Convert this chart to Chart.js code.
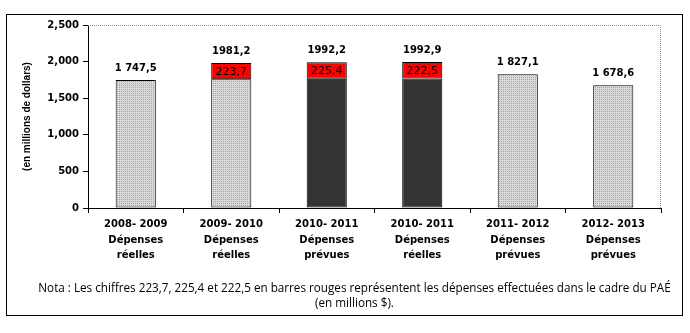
<!DOCTYPE html>
<html>
<head>
<meta charset="utf-8">
<script src="https://cdn.jsdelivr.net/npm/chart.js@4/dist/chart.umd.min.js"></script>
<style>
  body { margin: 0; background: #fff; }
  #box { position: absolute; left: 6px; top: 14px; width: 675px; height: 300px; border: 1px solid #000; }
  #chart { position: absolute; left: 0; top: 0; }
  #note { position: absolute; left: 0; top: 265px; width: 695px; text-align: center;
          font: 11.7px "Open Sans", sans-serif; line-height: 15px; color: #000; }
</style>
</head>
<body>
<div id="box">
  <canvas id="chart" width="675" height="300"></canvas>
  <div id="note">Nota : Les chiffres 223,7, 225,4 et 222,5 en barres rouges représentent les dépenses effectuées dans le cadre du PAÉ<br>(en millions $).</div>
</div>
<script>
// categories (each on 3 lines)
let categories = [
  ["2008- 2009", "Dépenses", "réelles"],
  ["2009- 2010", "Dépenses", "réelles"],
  ["2010- 2011", "Dépenses", "prévues"],
  ["2010- 2011", "Dépenses", "réelles"],
  ["2011- 2012", "Dépenses", "prévues"],
  ["2012- 2013", "Dépenses", "prévues"]
];
let baseValues = [1747.5, 1757.5, 1766.8, 1770.4, 1827.1, 1678.6];
let redValues = [null, 223.7, 225.4, 222.5, null, null];
let totalLabels = ["1 747,5", "1981,2", "1992,2", "1992,9", "1 827,1", "1 678,6"];
let redLabels = [null, "223,7", "225,4", "222,5", null, null];
let darkBars = [false, false, true, true, false, false];
let yTicks = [0, 500, 1000, 1500, 2000, 2500];

// motif pointillé gris
let pc = document.createElement('canvas');
pc.width = 2; pc.height = 2;
let pctx = pc.getContext('2d');
pctx.fillStyle = '#dadada';
pctx.fillRect(0, 0, 2, 2);
pctx.fillStyle = '#a4a4a4';
pctx.fillRect(0, 0, 1, 1);
let dotted = pctx.createPattern(pc, 'repeat');

let labelPlugin = {
  id: 'labels',
  afterDatasetsDraw(chart) {
    let c = chart.ctx;
    let area = chart.chartArea;
    // bordure pointillée haut/droite
    c.save();
    c.strokeStyle = '#8a8a8a';
    c.lineWidth = 1;
    c.setLineDash([1, 1]);
    c.beginPath();
    c.moveTo(area.left, area.top + 0.5);
    c.lineTo(area.right - 0.5, area.top + 0.5);
    c.lineTo(area.right - 0.5, area.bottom);
    c.stroke();
    c.restore();

    let y = chart.scales.y;
    let meta0 = chart.getDatasetMeta(0);
    c.save();
    c.textAlign = 'center';
    c.fillStyle = '#000';
    meta0.data.forEach((bar, i) => {
      let total = baseValues[i] + (redValues[i] || 0);
      c.font = 'bold 10px "DejaVu Sans"';
      c.textBaseline = 'bottom';
      c.fillText(totalLabels[i], bar.x, y.getPixelForValue(total) - 7);
      if (redLabels[i]) {
        c.font = '11px "DejaVu Sans"';
        c.textBaseline = 'middle';
        let mid = y.getPixelForValue(baseValues[i] + redValues[i] / 2);
        c.fillText(redLabels[i], bar.x, mid + 1);
      }
    });
    c.restore();
  }
};

new Chart(document.getElementById('chart'), {
  type: 'bar',
  data: {
    labels: categories,
    datasets: [{
      data: baseValues,
      backgroundColor: darkBars.map(d => d ? '#333333' : dotted),
      borderColor: '#000',
      borderWidth: 1,
      borderSkipped: false,
      barPercentage: 0.84,
      categoryPercentage: 0.5
    }, {
      data: redValues,
      backgroundColor: '#ff0000',
      borderColor: '#000',
      borderWidth: 1,
      borderSkipped: false,
      barPercentage: 0.84,
      categoryPercentage: 0.5
    }]
  },
  options: {
    responsive: false,
    animation: false,
    layout: { padding: { left: 0, top: 10, right: 21, bottom: 0 } },
    plugins: { legend: { display: false }, tooltip: { enabled: false } },
    scales: {
      x: {
        stacked: true,
        afterFit: s => { s.height = 107; },
        border: { color: '#000', width: 1 },
        grid: { drawOnChartArea: false, tickLength: 5, color: '#000', offset: true },
        ticks: { color: '#000', padding: 4, maxRotation: 0, font: { family: 'DejaVu Sans', size: 10, weight: 'bold', lineHeight: 1.55 } }
      },
      y: {
        stacked: true,
        min: 0,
        max: 2500,
        afterFit: s => { s.width = 81; },
        afterBuildTicks: s => { s.ticks = yTicks.map(v => ({ value: v })); },
        border: { color: '#000', width: 1 },
        grid: { drawOnChartArea: false, tickLength: 5, color: '#000' },
        ticks: {
          color: '#000', padding: 4,
          font: { family: 'DejaVu Sans', size: 10, weight: 'bold' },
          callback: v => v.toLocaleString('en-US')
        },
        title: {
          display: true,
          text: '(en millions de dollars)',
          color: '#000',
          padding: { top: 14, bottom: 0 },
          font: { family: 'Liberation Sans', size: 10, weight: 'bold' }
        }
      }
    }
  },
  plugins: [labelPlugin]
});
</script>
</body>
</html>
